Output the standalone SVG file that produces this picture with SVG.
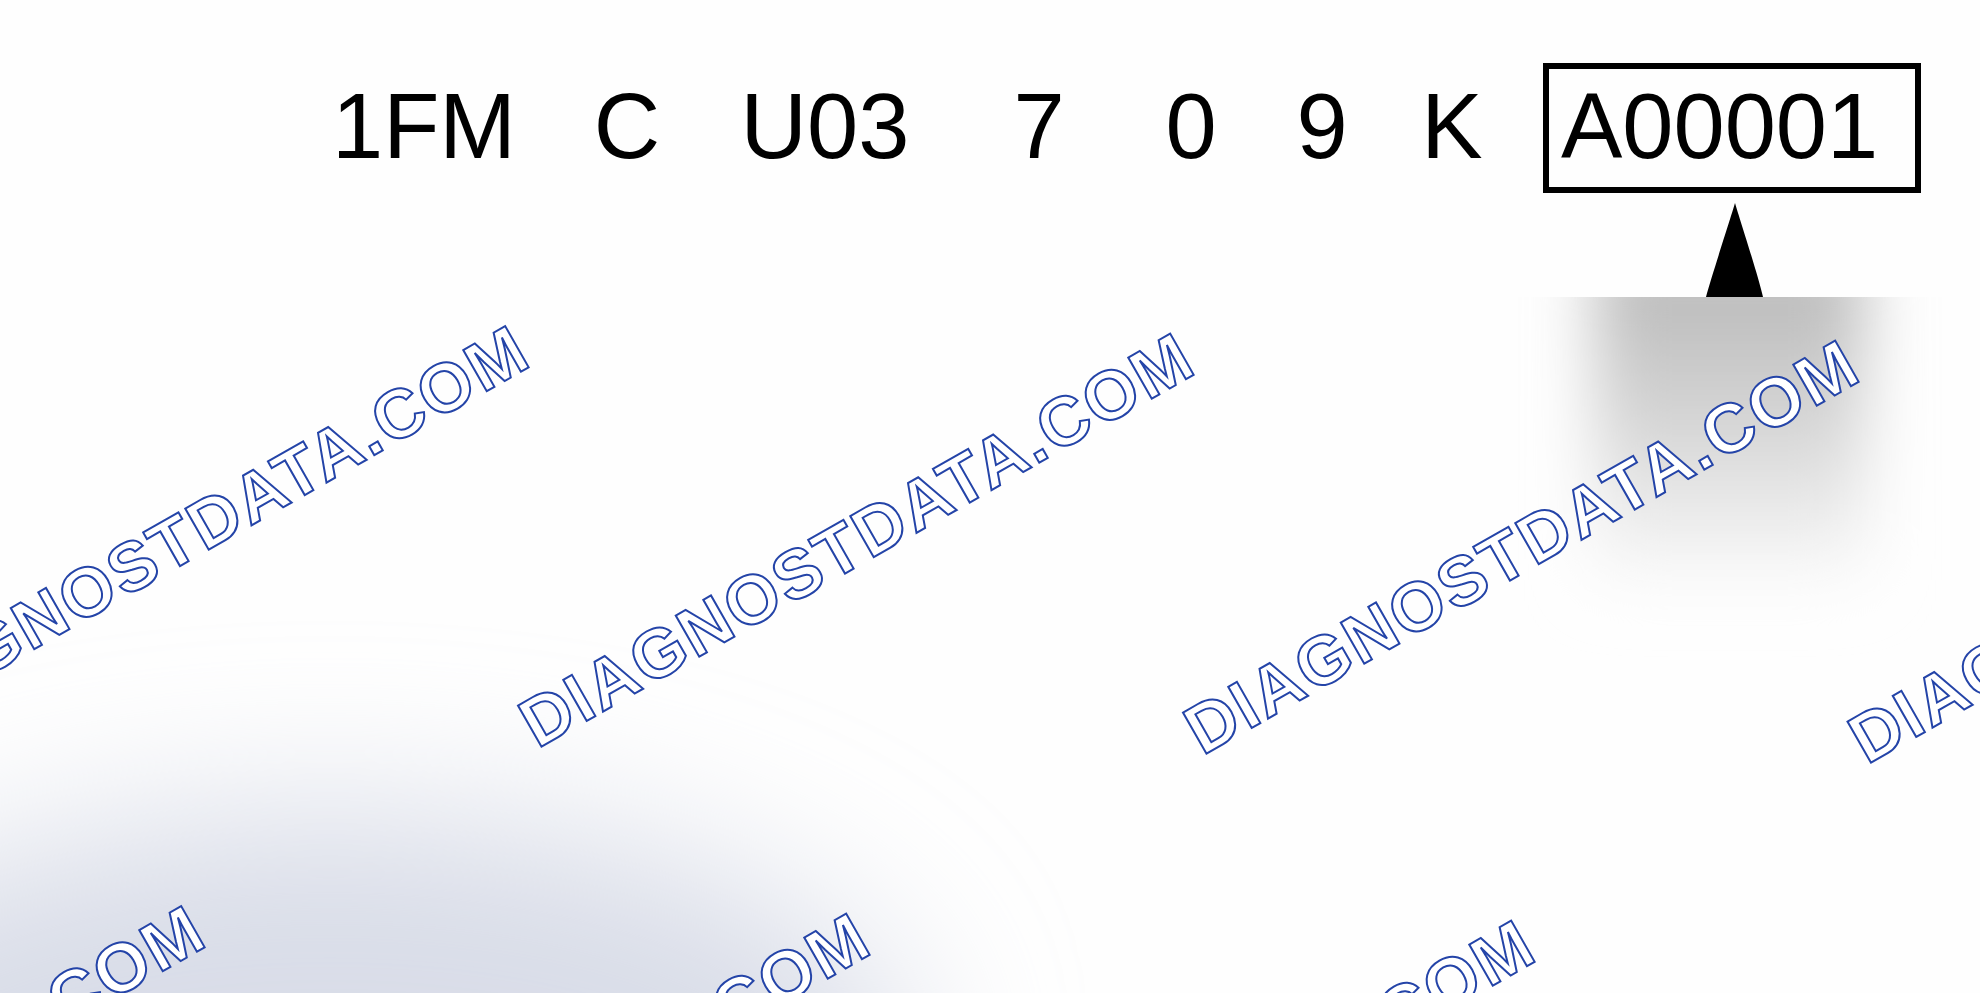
<svg xmlns="http://www.w3.org/2000/svg" width="1980" height="993" viewBox="0 0 1980 993">
<style>
.vin{font-family:"Liberation Sans",Arial,sans-serif;font-size:92px;fill:#000;}
.wm{font-family:"Liberation Sans",Arial,sans-serif;font-weight:bold;font-size:69px;fill:#ffffff;stroke:#2444a8;stroke-width:2px;stroke-linejoin:miter;}
</style>
<defs>
<filter id="blurGray" x="-50%" y="-50%" width="200%" height="200%"><feGaussianBlur stdDeviation="32"/></filter>
<filter id="blurBlue" x="-50%" y="-50%" width="200%" height="200%"><feGaussianBlur stdDeviation="80"/></filter>
<linearGradient id="gv" x1="0" y1="0" x2="0" y2="1">
<stop offset="0" stop-color="#b4b4b4"/>
<stop offset="0.5" stop-color="#d4d4d4"/>
<stop offset="1" stop-color="#fafafa"/>
</linearGradient>
<clipPath id="clipGray"><rect x="1500" y="297" width="480" height="420"/></clipPath>
</defs>
<rect width="1980" height="993" fill="#fefefe"/>
<g id="shade-bottom-left">
<ellipse cx="330" cy="1060" rx="580" ry="250" fill="#d9dde8" filter="url(#blurBlue)"/>
</g>
<g id="shade-gray" clip-path="url(#clipGray)">
<rect x="1595" y="250" width="270" height="330" fill="url(#gv)" filter="url(#blurGray)"/>
</g>
<g id="watermarks">
<text class="wm" textLength="760" lengthAdjust="spacing" transform="translate(-127.5,741.5) rotate(-29.7)">DIAGNOSTDATA.COM</text>
<text class="wm" textLength="760" lengthAdjust="spacing" transform="translate(537.5,749) rotate(-29.7)">DIAGNOSTDATA.COM</text>
<text class="wm" textLength="760" lengthAdjust="spacing" transform="translate(1202.5,756) rotate(-29.7)">DIAGNOSTDATA.COM</text>
<text class="wm" textLength="760" lengthAdjust="spacing" transform="translate(1867,765) rotate(-29.7)">DIAGNOSTDATA.COM</text>
<text class="wm" textLength="760" lengthAdjust="spacing" transform="translate(-451.5,1321.5) rotate(-29.7)">DIAGNOSTDATA.COM</text>
<text class="wm" textLength="760" lengthAdjust="spacing" transform="translate(213.5,1329) rotate(-29.7)">DIAGNOSTDATA.COM</text>
<text class="wm" textLength="760" lengthAdjust="spacing" transform="translate(878.5,1336) rotate(-29.7)">DIAGNOSTDATA.COM</text>
</g>
<g id="vin">
<text class="vin" x="424" y="158" text-anchor="middle">1FM</text>
<text class="vin" x="627" y="158" text-anchor="middle">C</text>
<text class="vin" x="825" y="158" text-anchor="middle">U03</text>
<text class="vin" x="1039" y="158" text-anchor="middle">7</text>
<text class="vin" x="1191" y="158" text-anchor="middle">0</text>
<text class="vin" x="1322" y="158" text-anchor="middle">9</text>
<text class="vin" x="1452" y="158" text-anchor="middle">K</text>
</g>
<g id="serial-box">
<rect x="1546" y="66" width="372" height="124" fill="none" stroke="#000" stroke-width="6"/>
<text class="vin" x="1561" y="158">A00001</text>
</g>
<g id="connectors">
<path d="M1735,203 C1740,220 1758,275 1763,297 L1706,297 C1712,275 1730,220 1735,203 Z" fill="#000"/>
</g>
</svg>
